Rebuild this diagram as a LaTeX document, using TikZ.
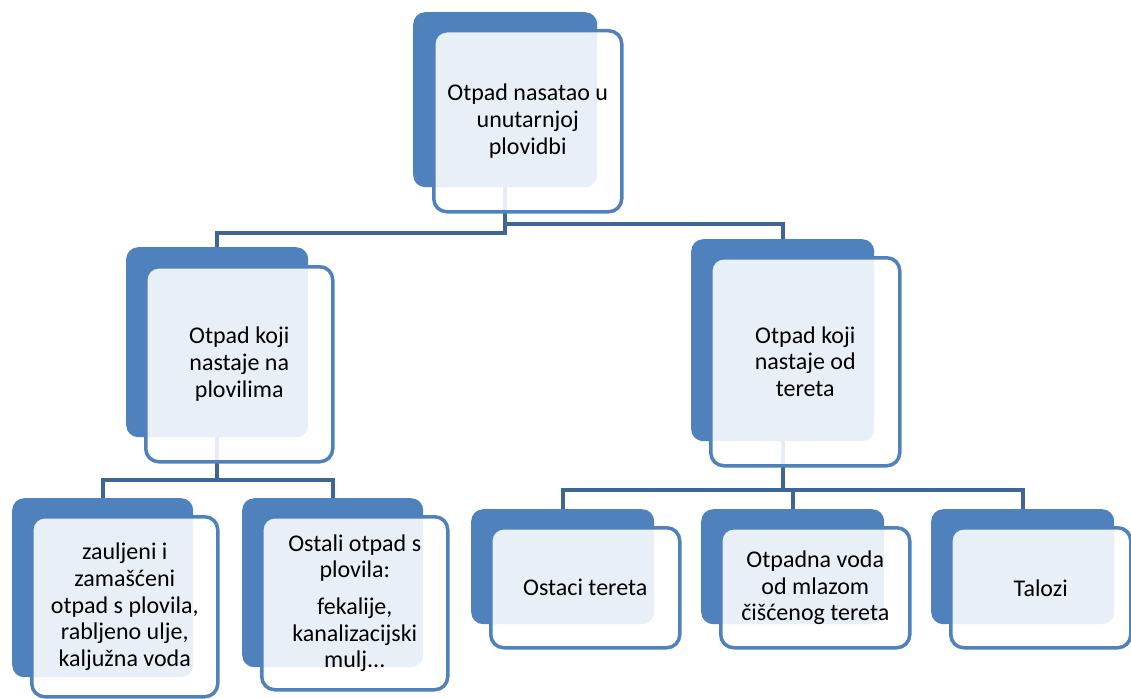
\documentclass[tikz,border=0pt]{standalone}
\usepackage{fontspec}
\setmainfont{Carlito}
\definecolor{boxblue}{RGB}{79,129,189}
\definecolor{linkblue}{RGB}{63,101,150}

\begin{document}
\begin{tikzpicture}[
  x=1pt,y=-1pt,
  font=\fontsize{24}{26.7}\selectfont,
  back/.style={fill=boxblue,rounded corners=12pt,anchor=north west,inner sep=0pt},
  front/.style={draw=boxblue,line width=3.5pt,fill=white,fill opacity=0.88,text opacity=1,
    rounded corners=13pt,anchor=north west,inner sep=0pt,align=center},
  link/.style={draw=linkblue,line width=4pt}
]
\useasboundingbox (0,0) rectangle (1131,698);

% back boxes
\node[back,minimum width=184,minimum height=175] (top-b) at (413,12) {};
\node[back,minimum width=182,minimum height=190] (ml-b) at (126,247) {};
\node[back,minimum width=183,minimum height=202] (mr-b) at (691,239) {};
\node[back,minimum width=181,minimum height=179] (b1-b) at (12,498) {};
\node[back,minimum width=181,minimum height=169] (b2-b) at (242,498) {};
\node[back,minimum width=183,minimum height=115] (b3-b) at (471,509) {};
\node[back,minimum width=183,minimum height=115] (b4-b) at (701,509) {};
\node[back,minimum width=183,minimum height=115] (b5-b) at (931,509) {};

% connectors
\draw[link] (top-b.south) -- ++(0,46) -| (ml-b.north);
\draw[link] (top-b.south) -- ++(0,37) -| (mr-b.north);
\foreach \c in {b1,b2}
  \draw[link] (ml-b.south) -- ++(0,43) -| (\c-b.north);
\foreach \c in {b3,b4,b5}
  \draw[link] (mr-b.south) -- ++(0,49) -| (\c-b.north);

% front boxes with text
\node[front,minimum width=188,minimum height=181] (top) at (432,29) {Otpad nasatao u\\unutarnjoj\\plovidbi};
\node[front,minimum width=187,minimum height=195] (ml) at (144,265) {Otpad koji\\nastaje na\\plovilima};
\node[front,minimum width=189,minimum height=208] (mr) at (709,256) {Otpad koji\\nastaje od\\tereta};
\node[front,minimum width=186,minimum height=180] (b1) at (30,515) {zauljeni i\\zamašćeni\\otpad s plovila,\\rabljeno ulje,\\kaljužna voda};
\node[front,minimum width=186,minimum height=173] (b2) at (260,515) {Ostali otpad s\\plovila:\\[10pt]fekalije,\\kanalizacijski\\mulj...};
\node[front,minimum width=189,minimum height=120] (b3) at (489,526) {Ostaci tereta};
\node[front,minimum width=189,minimum height=120] (b4) at (719,526) {Otpadna voda\\od mlazom\\čišćenog tereta};
\node[front,minimum width=180,minimum height=120] (b5) at (949,526) {Talozi};
\end{tikzpicture}
\end{document}
